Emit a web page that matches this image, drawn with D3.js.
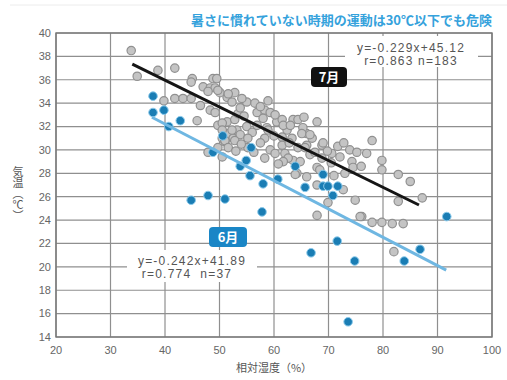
<!DOCTYPE html>
<html>
<head>
<meta charset="utf-8">
<script src="https://cdn.jsdelivr.net/npm/d3@7"></script>
<style>
  body { margin: 0; background: #fff; }
  text { font-family: "Liberation Sans", Arial, sans-serif; }
  .jp { font-family: "Noto Sans CJK JP", sans-serif; }
</style>
</head>
<body>
<div id="chart"></div>
<script>
var xTicks = [20, 30, 40, 50, 60, 70, 80, 90, 100]
var yTicks = [14, 16, 18, 20, 22, 24, 26, 28, 30, 32, 34, 36, 38, 40]

// 7月 (humidity %, temperature C)
var julyPoints = [
  [33.8,38.5],[34.9,36.3],[38.7,36.8],[41.8,37.0],[45.0,36.1],[39.8,34.2],[41.8,34.4],[43.3,34.4],
  [44.8,34.4],[44.8,35.8],[47.0,35.4],[48.3,35.3],[48.3,33.4],[45.9,32.5],[47.9,29.8],[48.8,36.1],
  [49.5,36.1],[49.2,35.3],[47.9,35.0],[50.1,34.9],[51.4,34.5],[52.8,34.9],[52.3,34.1],[49.2,33.2],
  [49.7,32.1],[51.4,32.4],[52.8,32.6],[53.4,33.1],[53.8,33.6],[55.0,34.1],[56.5,34.0],[56.9,33.2],
  [58.3,33.4],[58.9,34.2],[58.0,32.7],[56.9,32.1],[55.0,32.0],[53.2,31.7],[51.6,31.4],[50.5,31.0],
  [51.0,30.7],[52.5,31.0],[56.0,31.5],[58.7,31.9],[60.5,32.4],[61.5,32.6],[63.5,32.6],[64.4,32.6],
  [62.4,31.7],[61.5,31.1],[63.3,31.0],[66.0,31.4],[67.0,31.0],[66.0,30.4],[64.4,30.2],[62.0,29.7],
  [63.5,29.1],[64.2,28.0],[66.0,27.7],[67.9,28.5],[67.9,24.4],[49.7,35.1],[51.6,34.8],[54.1,34.4],
  [59.3,33.2],[61.7,32.1],[63.0,32.1],[67.9,32.4],[65.3,31.9],[65.1,31.4],[66.6,31.3],[58.9,31.7],
  [50.5,32.3],[50.5,31.7],[52.3,31.7],[53.8,31.3],[55.2,31.0],[51.0,30.8],[52.8,30.8],[58.3,31.0],
  [59.3,30.0],[61.5,30.4],[60.2,29.7],[62.6,29.3],[65.7,30.2],[66.6,29.6],[67.5,29.8],[68.8,30.4],
  [68.8,29.3],[61.7,29.0],[58.3,29.3],[55.2,30.2],[51.6,30.2],[49.7,30.2],[50.5,29.4],[68.4,28.3],
  [69.0,30.6],[71.7,30.3],[73.9,30.0],[75.2,29.8],[77.0,29.7],[78.0,30.8],[79.8,29.1],[79.8,28.3],
  [72.1,29.4],[74.3,29.0],[73.0,28.0],[74.9,25.7],[82.8,27.9],[85.0,27.3],[87.2,25.9],[82.8,25.6],
  [76.1,24.3],[78.0,23.8],[79.8,23.8],[81.7,23.7],[83.7,23.7],[70.6,29.7],[74.5,28.5],[72.7,26.6],
  [69.9,25.5],[63.9,27.9],[67.9,27.0],[82.0,21.3],[46.5,33.8],[54.5,32.9],[57.5,30.6],[60.0,31.2],
  [70.5,28.9],[71.0,27.8],[75.8,24.3],[57.5,33.7],[60.2,33.0],[62.8,30.6],[64.8,29.0],[54.0,30.5],
  [56.3,29.8],[69.8,29.9],[72.8,30.6],[76.0,28.6],[65.5,32.8],[60.8,28.8],[53.0,29.9]
]

// 6月
var junePoints = [
  [37.8,34.6],[37.8,33.2],[39.8,33.4],[40.7,32.0],[42.8,32.5],[44.8,25.7],[47.9,26.1],[51.0,25.8],
  [48.8,29.8],[53.8,28.6],[55.8,30.2],[54.9,29.1],[55.6,27.8],[58.0,27.1],[60.7,27.5],[57.8,24.7],
  [63.9,28.6],[65.7,26.8],[69.0,26.9],[69.9,26.9],[71.7,26.9],[70.8,26.1],[71.6,22.2],[66.8,21.2],
  [74.8,20.5],[73.6,15.3],[83.9,20.5],[86.8,21.5],[91.7,24.3],[69.0,27.9],[50.6,31.2]
]

// regression lines: slope, intercept, x range
var julyFit = { slope: -0.229, intercept: 45.12, from: 34, to: 86.6 }
var juneFit = { slope: -0.242, intercept: 41.89, from: 37.6, to: 91.6 }

var title = "暑さに慣れていない時期の運動は30℃以下でも危険"

;(function() {
  var margin = { top: 33, left: 56, right: 15, bottom: 43 },
    width = 507 - margin.left - margin.right,
    height = 380 - margin.top - margin.bottom;

  var root = d3.select("#chart")
    .append("svg")
    .attr("width", 507)
    .attr("height", 380)

  root.append("line")
    .attr("x1", 10).attr("x2", 507).attr("y1", 5).attr("y2", 5)
    .attr("stroke", "#ececec")

  root.append("text")
    .attr("class", "jp")
    .attr("x", 492)
    .attr("y", 25)
    .attr("text-anchor", "end")
    .attr("font-size", 13)
    .attr("font-weight", "bold")
    .attr("fill", "#35a2dc")
    .text(title)

  var svg = root.append("g")
    .attr("transform", "translate(" + margin.left + "," + margin.top + ")");

  var x = d3.scaleLinear().domain([20, 100]).range([0, width])
  var y = d3.scaleLinear().domain([14, 40]).range([height, 0])

  // grid
  svg.selectAll(".vgrid")
    .data(xTicks)
    .enter().append("line")
    .attr("class", "vgrid")
    .attr("x1", function(d) { return x(d) }).attr("x2", function(d) { return x(d) })
    .attr("y1", 0).attr("y2", height)
    .attr("stroke", "#8f8f8f").attr("stroke-width", 1.2)

  svg.selectAll(".hgrid")
    .data(yTicks)
    .enter().append("line")
    .attr("class", "hgrid")
    .attr("x1", 0).attr("x2", width)
    .attr("y1", function(d) { return y(d) }).attr("y2", function(d) { return y(d) })
    .attr("stroke", "#8f8f8f").attr("stroke-width", 1.2)

  svg.append("rect")
    .attr("width", width).attr("height", height)
    .attr("fill", "none").attr("stroke", "#777").attr("stroke-width", 1.4)

  // tick labels
  svg.selectAll(".ylab")
    .data(yTicks)
    .enter().append("text")
    .attr("class", "ylab")
    .attr("x", -5)
    .attr("y", function(d) { return y(d) })
    .attr("dy", "0.35em")
    .attr("text-anchor", "end")
    .attr("font-size", 11)
    .attr("fill", "#666")
    .text(function(d) { return d })

  svg.selectAll(".xlab")
    .data(xTicks)
    .enter().append("text")
    .attr("class", "xlab")
    .attr("x", function(d) { return x(d) })
    .attr("y", height + 17)
    .attr("text-anchor", "middle")
    .attr("font-size", 11)
    .attr("fill", "#666")
    .text(function(d) { return d })

  svg.append("text")
    .attr("class", "jp")
    .attr("x", x(60))
    .attr("y", height + 35)
    .attr("text-anchor", "middle")
    .attr("font-size", 11)
    .attr("fill", "#555")
    .text("相対湿度（%）")

  root.append("text")
    .attr("class", "jp")
    .attr("x", 18)
    .attr("y", 166)
    .attr("font-size", 11)
    .attr("fill", "#555")
    .style("writing-mode", "vertical-rl")
    .text("気温（℃）")

  // equation boxes
  svg.append("rect")
    .attr("x", 345 - margin.left).attr("y", 36 - margin.top)
    .attr("width", 133).attr("height", 31)
    .attr("fill", "#fff")
  svg.append("rect")
    .attr("x", 127 - margin.left).attr("y", 250 - margin.top)
    .attr("width", 130).attr("height", 32)
    .attr("fill", "#fff")

  // points
  svg.selectAll(".july")
    .data(julyPoints)
    .enter().append("circle")
    .attr("class", "july")
    .attr("cx", function(d) { return x(d[0]) })
    .attr("cy", function(d) { return y(d[1]) })
    .attr("r", 4.2)
    .attr("fill", "#c4c4c4")
    .attr("stroke", "#909090")
    .attr("stroke-width", 1.2)

  svg.selectAll(".june")
    .data(junePoints)
    .enter().append("circle")
    .attr("class", "june")
    .attr("cx", function(d) { return x(d[0]) })
    .attr("cy", function(d) { return y(d[1]) })
    .attr("r", 4.3)
    .attr("fill", "#1a7db4")
    .attr("stroke", "#8ccbec")
    .attr("stroke-width", 1)

  // regression lines
  function fitLine(f) {
    return [[f.from, f.slope * f.from + f.intercept], [f.to, f.slope * f.to + f.intercept]]
  }
  var line = d3.line()
    .x(function(d) { return x(d[0]) })
    .y(function(d) { return y(d[1]) })

  svg.append("path")
    .datum(fitLine(juneFit))
    .attr("d", line)
    .attr("fill", "none")
    .attr("stroke", "#6fb7e2")
    .attr("stroke-width", 3)

  svg.append("path")
    .datum(fitLine(julyFit))
    .attr("d", line)
    .attr("fill", "none")
    .attr("stroke", "#151515")
    .attr("stroke-width", 3)

  // equation text
  var eq = [
    { x: 411, y: 52, t: "y=-0.229x+45.12" },
    { x: 411, y: 65, t: "r=0.863 n=183" },
    { x: 192, y: 265, t: "y=-0.242x+41.89" },
    { x: 187, y: 278, t: "r=0.774  n=37" }
  ]
  svg.selectAll(".eq")
    .data(eq)
    .enter().append("text")
    .attr("class", "eq")
    .attr("x", function(d) { return d.x - margin.left })
    .attr("y", function(d) { return d.y - margin.top })
    .attr("text-anchor", "middle")
    .attr("font-size", 12)
    .attr("letter-spacing", 1.2)
    .attr("fill", "#555")
    .style("white-space", "pre")
    .text(function(d) { return d.t })

  // month tags
  var tags = [
    { x: 311, y: 67, w: 36, fill: "#111", t: "7月" },
    { x: 209, y: 227, w: 38, fill: "#1a86c6", t: "6月" }
  ]
  var tag = svg.selectAll(".tag")
    .data(tags)
    .enter().append("g")
    .attr("class", "tag")
    .attr("transform", function(d) { return "translate(" + (d.x - margin.left) + "," + (d.y - margin.top) + ")" })
  tag.append("rect")
    .attr("width", function(d) { return d.w })
    .attr("height", 20)
    .attr("rx", 4)
    .attr("fill", function(d) { return d.fill })
  tag.append("text")
    .attr("class", "jp")
    .attr("x", function(d) { return d.w / 2 })
    .attr("y", 15)
    .attr("text-anchor", "middle")
    .attr("font-size", 13)
    .attr("font-weight", "bold")
    .attr("fill", "#fff")
    .text(function(d) { return d.t })
})();
</script>
</body>
</html>
